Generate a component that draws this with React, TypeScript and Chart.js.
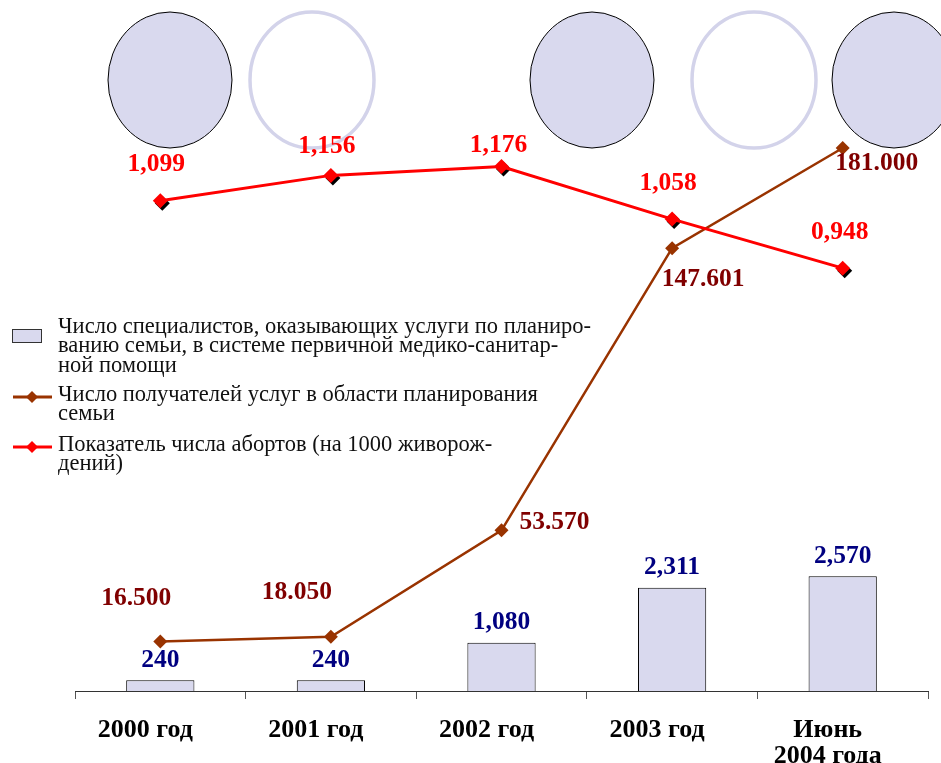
import React, { useEffect, useRef } from "react";
import { Chart, registerables } from "chart.js";

Chart.register(...registerables);

// ---- data ----
const categories: string[][] = [["2000 год"], ["2001 год"], ["2002 год"], ["2003 год"], ["Июнь", "2004 года"]];
const specialists = [240, 240, 1080, 2311, 2570];
const recipients = [16500, 18050, 53570, 147601, 181000];
const abortionRate = [1.099, 1.156, 1.176, 1.058, 0.948];
const specialistsLabel = [
  "Число специалистов, оказывающих услуги по планиро-",
  "ванию семьи, в системе первичной медико-санитар-",
  "ной помощи",
];
const recipientsLabel = ["Число получателей услуг в области планирования", "семьи"];
const abortionLabel = ["Показатель числа абортов (на 1000 живорож-", "дений)"];

// ---- styles ----
const SERIF = "'Liberation Serif', 'Times New Roman', serif";
const BAR_FILL = "#D9D9EE";
const BROWN = "#993300";
const BROWN_LABEL = "#800000";
const RED = "#FF0000";
const NAVY = "#000080";

const fmtBar = (v: number) => String(v).replace(/\B(?=(\d{3})+(?!\d))/g, ",");
const fmtRec = (v: number) => (v / 1000).toFixed(3);
const fmtAb = (v: number) => v.toFixed(3).replace(".", ",");

// label offsets (dx, dy) from the point to the label centre
const recOffsets = [[-24, -43], [-34, -44], [53, -8], [31, 31], [34, 15]];
const abOffsets = [[-4, -36], [-4, -29], [-3, -21], [-4, -36], [-3, -36]];

function diamond(ctx: CanvasRenderingContext2D, x: number, y: number, r: number) {
  ctx.beginPath();
  ctx.moveTo(x, y - r);
  ctx.lineTo(x + r, y);
  ctx.lineTo(x, y + r);
  ctx.lineTo(x - r, y);
  ctx.closePath();
  ctx.fill();
}

const decorPlugin = {
  id: "decor",
  beforeDatasetsDraw(chart: any) {
    const ctx = chart.ctx as CanvasRenderingContext2D;
    const ellipses = [
      { cx: 170, filled: true },
      { cx: 312, filled: false },
      { cx: 592, filled: true },
      { cx: 754, filled: false },
      { cx: 894, filled: true },
    ];
    ctx.save();
    for (const e of ellipses) {
      ctx.beginPath();
      ctx.ellipse(e.cx, 80, 62, 68, 0, 0, Math.PI * 2);
      if (e.filled) {
        ctx.fillStyle = BAR_FILL;
        ctx.fill();
        ctx.strokeStyle = "#000";
        ctx.lineWidth = 1;
        ctx.stroke();
      } else {
        ctx.strokeStyle = "#D3D3EA";
        ctx.lineWidth = 3.5;
        ctx.stroke();
      }
    }
    ctx.restore();
  },
};

const shadowPlugin = {
  id: "markerShadow",
  beforeDatasetDraw(chart: any, args: any) {
    if (args.index !== 2) return;
    const ctx = chart.ctx as CanvasRenderingContext2D;
    ctx.save();
    ctx.fillStyle = "#000";
    for (const p of args.meta.data) diamond(ctx, p.x + 2, p.y + 2.5, 7.5);
    ctx.restore();
  },
};

const labelPlugin = {
  id: "valueLabels",
  afterDatasetsDraw(chart: any) {
    const ctx = chart.ctx as CanvasRenderingContext2D;
    ctx.save();
    ctx.textAlign = "center";
    ctx.textBaseline = "middle";
    ctx.font = `bold 25.5px ${SERIF}`;
    ctx.fillStyle = NAVY;
    chart.getDatasetMeta(0).data.forEach((b: any, i: number) => {
      ctx.fillText(fmtBar(specialists[i]), b.x, b.y - 20);
    });
    ctx.fillStyle = BROWN_LABEL;
    chart.getDatasetMeta(1).data.forEach((p: any, i: number) => {
      ctx.fillText(fmtRec(recipients[i]), p.x + recOffsets[i][0], p.y + recOffsets[i][1]);
    });
    ctx.fillStyle = RED;
    chart.getDatasetMeta(2).data.forEach((p: any, i: number) => {
      ctx.fillText(fmtAb(abortionRate[i]), p.x + abOffsets[i][0], p.y + abOffsets[i][1]);
    });
    ctx.restore();
  },
};

const legendPlugin = {
  id: "customLegend",
  afterDraw(chart: any) {
    const ctx = chart.ctx as CanvasRenderingContext2D;
    ctx.save();
    ctx.font = `22.5px ${SERIF}`;
    ctx.fillStyle = "#111";
    ctx.textAlign = "left";
    ctx.textBaseline = "alphabetic";
    const lh = 19.4;
    const items = [
      { lines: chart.data.datasets[0].label as string[], y: 333 },
      { lines: chart.data.datasets[1].label as string[], y: 401 },
      { lines: chart.data.datasets[2].label as string[], y: 451 },
    ];
    items.forEach((it) => {
      it.lines.forEach((t, j) => ctx.fillText(t, 58, it.y + j * lh));
    });
    // swatches
    ctx.fillStyle = BAR_FILL;
    ctx.fillRect(12.5, 329.5, 29, 13);
    ctx.strokeStyle = "#333";
    ctx.lineWidth = 1;
    ctx.strokeRect(12.5, 329.5, 29, 13);
    const lineSw = [
      { y: 397, c: BROWN },
      { y: 447, c: RED },
    ];
    for (const s of lineSw) {
      ctx.strokeStyle = s.c;
      ctx.lineWidth = 3;
      ctx.beginPath();
      ctx.moveTo(13, s.y);
      ctx.lineTo(52, s.y);
      ctx.stroke();
      ctx.fillStyle = s.c;
      diamond(ctx, 32, s.y, 6);
    }
    ctx.restore();
  },
};

export default function App() {
  const ref = useRef<HTMLCanvasElement | null>(null);
  useEffect(() => {
    if (!ref.current) return;
    const chart = new Chart(ref.current, {
      data: {
        labels: categories as any,
        datasets: [
          {
            type: "bar",
            label: specialistsLabel as any,
            data: specialists,
            yAxisID: "yBar",
            backgroundColor: BAR_FILL,
            borderColor: "#000",
            borderWidth: 1,
            barPercentage: 0.4,
            categoryPercentage: 1,
            order: 3,
          },
          {
            type: "line",
            label: recipientsLabel as any,
            data: recipients,
            yAxisID: "yRec",
            borderColor: BROWN,
            borderWidth: 2.5,
            pointStyle: "rectRot",
            pointRadius: 7,
            pointBackgroundColor: BROWN,
            pointBorderWidth: 0,
            tension: 0,
            order: 2,
          },
          {
            type: "line",
            label: abortionLabel as any,
            data: abortionRate,
            yAxisID: "yAb",
            borderColor: RED,
            borderWidth: 3,
            pointStyle: "rectRot",
            pointRadius: 7.5,
            pointBackgroundColor: RED,
            pointBorderWidth: 0,
            tension: 0,
            order: 1,
          },
        ],
      } as any,
      options: {
        responsive: false,
        animation: false,
        devicePixelRatio: 1,
        layout: { padding: { left: 75, right: 13, top: 100, bottom: 0 } },
        plugins: { legend: { display: false }, tooltip: { enabled: false } },
        scales: {
          x: {
            grid: { display: true, drawOnChartArea: false, drawTicks: true, tickLength: 8, color: "#555", offset: true },
            border: { display: true, color: "#333", width: 1 },
            ticks: {
              font: { family: SERIF, size: 26, weight: "bold", lineHeight: 0.97 },
              color: "#000",
              padding: 19,
              maxRotation: 0,
              autoSkip: false,
              labelOffset: -15,
            },
            afterFit: (s: any) => {
              s.height = 72;
            },
          },
          yBar: { display: false, min: 0, max: 13240 },
          yRec: { display: false, min: 0, max: 197000 },
          yAb: { display: false, min: 0, max: 1.325 },
        },
      } as any,
      plugins: [decorPlugin, shadowPlugin, labelPlugin, legendPlugin],
    });
    return () => chart.destroy();
  }, []);
  return (
    <div style={{ position: "absolute", left: 0, top: 0, width: 941, height: 763, background: "#fff" }}>
      <canvas ref={ref} width={941} height={763} style={{ display: "block" }} />
    </div>
  );
}
